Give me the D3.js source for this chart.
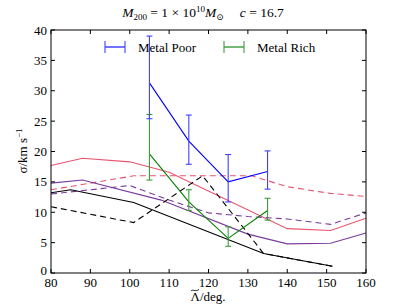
<!DOCTYPE html>
<html><head><meta charset="utf-8">
<script src="https://cdn.jsdelivr.net/npm/d3@7"></script>
<style>body{margin:0;background:#fff}svg{display:block}</style>
</head><body>
<script>
const xTicks=[80,90,100,110,120,130,140,150,160];
const yTicks=[0,5,10,15,20,25,30,35,40];
// observations
const obsX=[105,115,125,135];
const poorY=[31.3,21.7,15.0,16.7];
const poorLo=[25.4,17.9,11.7,13.8];
const poorHi=[39.0,26.0,19.5,20.1];
const richY=[19.6,11.7,5.7,10.3];
const richLo=[15.3,10.3,4.4,8.7];
const richHi=[26.1,13.7,7.6,12.3];
// model curves
const pinkSolidX=[80,88,100,110,140,151,160];
const pinkSolidY=[17.7,18.9,18.3,16.6,7.3,7.0,9.0];
const pinkDashX=[80,101,131,140,151,160];
const pinkDashY=[13.7,16.0,16.0,14.2,13.1,12.6];
const purpleSolidX=[80,88,108,130,140,151,160];
const purpleSolidY=[14.8,15.3,12.0,6.4,4.8,4.9,6.6];
const purpleDashX=[80,100,110,120,130,140,151,160];
const purpleDashY=[13.0,14.4,12.0,9.9,9.3,8.9,8.0,9.9];
const blackSolidX=[80,85,101,134,151.5];
const blackSolidY=[13.2,13.7,11.6,3.2,1.1];
const blackDashX=[80,101,118.5,134,151.5];
const blackDashY=[10.9,8.3,16.0,3.2,1.1];

const FONT="'Liberation Serif','Times New Roman','DejaVu Serif',serif";
const W=407,H=305;
const svg=d3.select("body").append("svg").attr("width",W).attr("height",H)
 .attr("font-family",FONT).style("font-family",FONT);
const x=d3.scaleLinear().domain([80,160]).range([51,366]);
const y=d3.scaleLinear().domain([0,40]).range([273,30]);

const line=d3.line().x(d=>x(d[0])).y(d=>y(d[1]));
const curves=[
 [pinkSolidX,pinkSolidY,"#e8546e",null],
 [pinkDashX,pinkDashY,"#e8546e","6,4"],
 [purpleSolidX,purpleSolidY,"#7b3a9c",null],
 [purpleDashX,purpleDashY,"#7b3a9c","6,4"],
 [blackSolidX,blackSolidY,"#000",null],
 [blackDashX,blackDashY,"#000","6,4"]
];
curves.forEach(c=>{
 svg.append("path").datum(c[0].map((v,i)=>[v,c[1][i]])).attr("d",line)
  .attr("fill","none").attr("stroke",c[2]).attr("stroke-width",1.1)
  .attr("stroke-dasharray",c[3]);
});

function errSeries(ys,lo,hi,col,barCol){
 const g=svg.append("g");
 g.append("path").datum(obsX.map((v,i)=>[v,ys[i]])).attr("d",line)
  .attr("fill","none").attr("stroke",col).attr("stroke-width",1.1);
 obsX.forEach((v,i)=>{
  const cx=x(v);
  g.append("line").attr("x1",cx).attr("x2",cx).attr("y1",y(lo[i])).attr("y2",y(hi[i])).attr("stroke",barCol).attr("stroke-width",1.1);
  [lo[i],hi[i]].forEach(e=>g.append("line").attr("x1",cx-3).attr("x2",cx+3).attr("y1",y(e)).attr("y2",y(e)).attr("stroke",barCol).attr("stroke-width",1.1));
 });
}
errSeries(richY,richLo,richHi,"#008000","#3c9c3c");
errSeries(poorY,poorLo,poorHi,"#0000ff","#4040ff");

// axes frame
svg.append("rect").attr("x",51).attr("y",30).attr("width",315).attr("height",243)
 .attr("fill","none").attr("stroke","#000").attr("stroke-width",1);
const ax=svg.append("g");
xTicks.forEach(t=>{
 ax.append("line").attr("x1",x(t)).attr("x2",x(t)).attr("y1",273).attr("y2",269).attr("stroke","#000");
 ax.append("line").attr("x1",x(t)).attr("x2",x(t)).attr("y1",30).attr("y2",34).attr("stroke","#000");
 ax.append("text").attr("x",x(t)).attr("y",287).attr("text-anchor","middle").attr("font-size",13).text(t);
});
yTicks.forEach(t=>{
 ax.append("line").attr("x1",51).attr("x2",55).attr("y1",y(t)).attr("y2",y(t)).attr("stroke","#000");
 ax.append("line").attr("x1",366).attr("x2",362).attr("y1",y(t)).attr("y2",y(t)).attr("stroke","#000");
 ax.append("text").attr("x",47).attr("y",y(t)+4.5-(t===0?2.5:0)).attr("text-anchor","end").attr("font-size",13).text(t);
});

// axis labels
const xl=svg.append("text").attr("x",208).attr("y",301).attr("text-anchor","middle").attr("font-size",13).text("Λ/deg.");
const bb=xl.node().getBBox();
const tx=bb.x+0.5, tw=8, ty=bb.y+1;
svg.append("path").attr("d",`M${tx},${ty+1.2} C${tx+2},${ty-1.5} ${tx+4},${ty+2.5} ${tx+tw},${ty-0.5}`)
 .attr("fill","none").attr("stroke","#000").attr("stroke-width",0.9);
const yl=svg.append("text").attr("transform","translate(27,151) rotate(-90)").attr("text-anchor","middle").attr("font-size",13);
yl.append("tspan").text("σ/km s");
yl.append("tspan").attr("dy",-5).attr("font-size",9).text("−1");

// title
const tt=svg.append("text").attr("x",203).attr("y",17).attr("text-anchor","middle").attr("font-size",13.5);
tt.append("tspan").attr("font-style","italic").text("M");
tt.append("tspan").attr("font-size",9).attr("dy",3).text("200");
tt.append("tspan").attr("dy",-3).text(" = 1 × 10");
tt.append("tspan").attr("font-size",9).attr("dy",-5).text("10");
tt.append("tspan").attr("dy",5).attr("font-style","italic").text("M");
tt.append("tspan").attr("font-size",9).attr("dy",3).text("⊙");
tt.append("tspan").attr("dy",-3).attr("dx",16).attr("font-style","italic").text("c");
tt.append("tspan").text(" = 16.7");

// legend
const legend=[["Metal Poor","#0000ff","#4040ff",105,138],["Metal Rich","#008000","#3c9c3c",224,257]];
legend.forEach(l=>{
 const ly=47;
 svg.append("line").attr("x1",l[3]).attr("x2",l[3]+20).attr("y1",ly).attr("y2",ly).attr("stroke",l[1]).attr("stroke-width",1.1);
 [l[3],l[3]+20].forEach(px=>svg.append("line").attr("x1",px).attr("x2",px).attr("y1",ly-6).attr("y2",ly+6).attr("stroke",l[2]).attr("stroke-width",1.1));
 svg.append("text").attr("x",l[4]).attr("y",ly+4.5).attr("font-size",13).text(l[0]);
});
</script>
</body></html>
